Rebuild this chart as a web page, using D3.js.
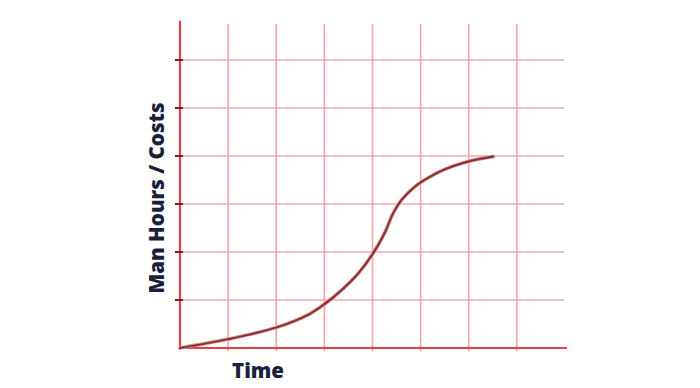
<!DOCTYPE html>
<html>
<head>
<meta charset="utf-8">
<script src="https://cdn.jsdelivr.net/npm/d3@7"></script>
<style>
    html, body { margin: 0; padding: 0; background: #fff; }
    svg { display: block; }
    .gridLine { stroke: #f5a3a8; stroke-width: 1.6; }
    .axis { stroke: #e2434b; stroke-width: 2.2; }
    .tick { stroke: #8e1c22; stroke-width: 2; }
    .label { font-family: "Open Sans", sans-serif; font-weight: 800; font-size: 20.5px; fill: #1b1f3b; }
</style>
</head>
<body>
<svg id="costChart" width="700" height="388"></svg>
<script>
// values (time in grid units, cost in grid units)
const timeValues = [0, 0.98, 2.01, 2.66, 3.01, 3.35, 3.7, 4.03, 4.25, 4.43, 4.6, 4.88, 5.05, 5.5, 6.05, 6.51];
const costValues = [0, 0.18, 0.43, 0.69, 0.92, 1.2, 1.55, 2.0, 2.39, 2.81, 3.08, 3.36, 3.48, 3.72, 3.9, 3.99];

const xGrid = [1, 2, 3, 4, 5, 6, 7];
const yGrid = [1, 2, 3, 4, 5, 6];

const xLabel = 'Time';
const yLabel = 'Man Hours / Costs';

const svg = d3.select('#costChart');

const x = d3.scaleLinear()
    .domain([0, 8])
    .range([180, 565]);

const y = d3.scaleLinear()
    .domain([0, 6])
    .range([348, 60]);

// GRID

svg.selectAll('.vGrid')
    .data(xGrid)
    .enter()
    .append('line')
    .attr('class', 'gridLine vGrid')
    .attr('x1', d => x(d))
    .attr('x2', d => x(d))
    .attr('y1', y(6.75))
    .attr('y2', y(-0.07));

svg.selectAll('.hGrid')
    .data(yGrid)
    .enter()
    .append('line')
    .attr('class', 'gridLine hGrid')
    .attr('x1', x(0))
    .attr('x2', x(7.98))
    .attr('y1', d => y(d))
    .attr('y2', d => y(d));

// AXES

svg.append('line')
    .attr('class', 'axis')
    .attr('x1', x(0))
    .attr('x2', x(0))
    .attr('y1', y(6.82))
    .attr('y2', y(0));

svg.append('line')
    .attr('class', 'axis')
    .attr('x1', x(0) - 1)
    .attr('x2', x(8.04))
    .attr('y1', y(0))
    .attr('y2', y(0));

svg.selectAll('.tick')
    .data(yGrid)
    .enter()
    .append('line')
    .attr('class', 'tick')
    .attr('x1', x(0) - 5)
    .attr('x2', x(0) + 3)
    .attr('y1', d => y(d))
    .attr('y2', d => y(d));

// CURVE

const points = timeValues.map((t, i) => [t, costValues[i]]);

const line = d3.line()
    .x(d => x(d[0]))
    .y(d => y(d[1]))
    .curve(d3.curveCatmullRom.alpha(0.5));

svg.append('path')
    .datum(points)
    .attr('d', line)
    .attr('fill', 'none')
    .attr('stroke', '#e98a8a')
    .attr('stroke-width', 3.6)
    .attr('stroke-linecap', 'round');

svg.append('path')
    .datum(points)
    .attr('d', line)
    .attr('fill', 'none')
    .attr('stroke', '#7a3634')
    .attr('stroke-width', 2)
    .attr('stroke-linecap', 'round');

// TEXT

svg.append('text')
    .attr('class', 'label')
    .attr('x', 258)
    .attr('y', 378)
    .attr('text-anchor', 'middle')
    .text(xLabel);

svg.append('text')
    .attr('class', 'label')
    .attr('transform', 'translate(164,198) rotate(-90)')
    .attr('text-anchor', 'middle')
    .text(yLabel);
</script>
</body>
</html>
